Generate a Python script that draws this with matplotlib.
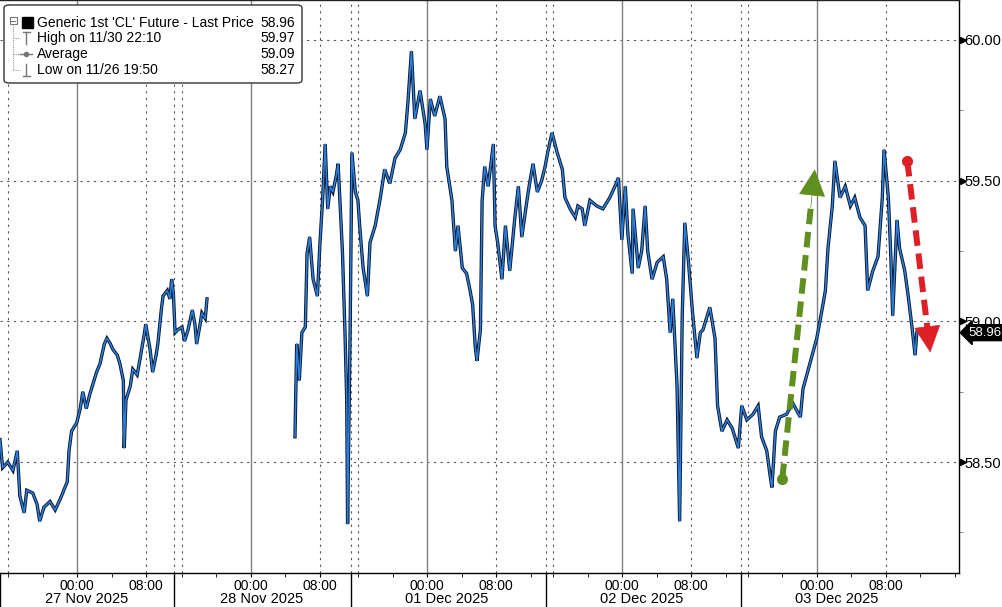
import numpy as np
import matplotlib.pyplot as plt
import matplotlib.transforms as mtransforms
from matplotlib.patches import FancyBboxPatch, Rectangle
from matplotlib.lines import Line2D

plt.rcParams['font.family'] = ['Liberation Sans', 'DejaVu Sans']

# time axis = trading hours counted from the left edge (closed hours squeezed out)
# 26/27 Nov session
t1 = [0.0, 0.3, 0.9, 1.5, 2.0, 2.3, 2.8, 3.1, 3.8, 4.3, 4.6, 5.1, 5.8, 6.4, 7.0, 7.4,
      7.8, 8.0, 8.3, 8.9, 9.3, 9.6, 10.0, 10.4, 10.8, 11.2, 11.6, 12.1, 12.4, 12.8, 13.1,
      13.6, 13.9, 14.3, 14.4, 14.6, 15.1, 15.4, 15.9, 16.2, 16.7, 16.9, 17.4, 17.7, 18.1,
      18.3, 18.7, 18.9, 19.4, 19.7, 19.9, 20.1, 20.3, 20.6, 21.1, 21.4, 21.8, 22.3, 22.6,
      22.8, 23.2, 23.4, 23.8, 24.0]
p1 = [58.58, 58.48, 58.50, 58.47, 58.54, 58.38, 58.32, 58.40, 58.39, 58.35, 58.29, 58.34,
      58.36, 58.33, 58.37, 58.40, 58.43, 58.54, 58.61, 58.64, 58.69, 58.75, 58.69, 58.74,
      58.78, 58.82, 58.85, 58.92, 58.94, 58.92, 58.90, 58.88, 58.85, 58.79, 58.55, 58.72,
      58.77, 58.83, 58.81, 58.86, 58.95, 58.99, 58.90, 58.82, 58.88, 58.92, 59.04, 59.09,
      59.11, 59.08, 59.15, 59.10, 58.96, 58.97, 58.98, 58.93, 58.97, 59.04, 58.99, 58.92,
      58.99, 59.03, 59.01, 59.08]

# 28 Nov evening session onwards
t2 = [34.2, 34.4, 34.7, 35.0, 35.4, 35.6, 35.9, 36.3, 36.8, 37.1, 37.4, 37.7, 38.0, 38.3,
      38.6, 39.0, 39.2, 39.7, 40.0, 40.2, 40.3, 40.6, 40.8, 41.2, 41.5, 41.7, 42.1, 42.6,
      42.9, 43.5, 44.1, 44.6, 45.2, 45.8, 46.4, 47.0, 47.3, 47.7, 48.1, 48.7, 49.3, 49.5,
      49.9, 50.4, 51.0, 51.6, 51.8, 52.4, 52.8, 53.1, 53.6, 54.1, 54.5, 54.8, 55.1, 55.3,
      55.7, 55.9, 56.2, 56.6, 57.0, 57.2, 57.4, 57.7, 58.2, 58.6, 59.1, 59.7, 60.1, 60.5,
      61.1, 61.4, 61.8, 62.3, 62.8, 63.2, 63.5, 64.0, 64.6, 65.2, 65.5, 66.1, 66.7, 67.0,
      67.5, 67.8, 68.4, 69.2, 69.9, 70.7, 71.3, 71.7, 72.1, 72.5, 72.8, 73.3, 73.4, 74.0,
      74.4, 74.8, 75.1, 75.6, 76.2, 76.9, 77.3, 77.7, 78.0, 78.5, 78.8, 79.1, 79.4, 79.8,
      80.3, 80.8, 81.2, 81.5, 82.3, 82.9, 83.2, 83.7, 84.3, 84.9, 85.6, 86.0, 86.6, 87.3,
      87.9, 88.3, 88.9, 89.3, 89.5, 89.9, 90.4, 91.2, 91.9, 92.8, 93.1, 93.9, 94.7, 95.3,
      95.7, 96.0, 96.5, 96.8, 97.4, 98.0, 98.6, 99.1, 99.7, 100.3, 100.6, 101.2, 101.8,
      102.3, 102.5, 103.0, 103.3, 103.5, 104.0, 104.3, 104.9, 105.3, 105.7, 106.1, 106.3]
p2 = [58.59, 58.92, 58.79, 58.96, 58.98, 59.24, 59.30, 59.15, 59.09, 59.28, 59.43, 59.63,
      59.40, 59.48, 59.46, 59.52, 59.56, 59.25, 58.96, 58.72, 58.28, 58.98, 59.60, 59.46,
      59.43, 59.34, 59.19, 59.09, 59.28, 59.34, 59.44, 59.54, 59.49, 59.58, 59.61, 59.67,
      59.78, 59.96, 59.72, 59.82, 59.70, 59.61, 59.79, 59.73, 59.80, 59.72, 59.55, 59.43,
      59.25, 59.34, 59.19, 59.17, 59.11, 59.06, 58.91, 58.86, 58.97, 59.43, 59.55, 59.48,
      59.58, 59.63, 59.34, 59.28, 59.15, 59.34, 59.18, 59.37, 59.48, 59.30, 59.43, 59.49,
      59.56, 59.46, 59.50, 59.55, 59.60, 59.67, 59.60, 59.54, 59.44, 59.40, 59.37, 59.41,
      59.40, 59.34, 59.43, 59.41, 59.40, 59.44, 59.48, 59.51, 59.29, 59.48, 59.31, 59.17,
      59.40, 59.19, 59.25, 59.41, 59.25, 59.15, 59.21, 59.23, 59.15, 58.96, 59.08, 58.77,
      58.29, 59.02, 59.35, 59.22, 59.03, 58.87, 58.96, 58.97, 59.05, 58.94, 58.70, 58.61,
      58.65, 58.62, 58.55, 58.70, 58.65, 58.67, 58.70, 58.59, 58.54, 58.45, 58.41, 58.61,
      58.66, 58.67, 58.71, 58.66, 58.76, 58.85, 58.94, 59.04, 59.11, 59.26, 59.41, 59.57,
      59.44, 59.48, 59.41, 59.44, 59.37, 59.34, 59.11, 59.18, 59.23, 59.44, 59.61, 59.44,
      59.22, 59.02, 59.36, 59.26, 59.18, 59.09, 58.99, 58.88, 58.96]

midnights = [8.93, 29.10, 49.51, 72.12, 94.72]
day_breaks = [20.17, 40.70, 63.30, 85.91]
day_labels = ['27 Nov 2025', '28 Nov 2025', '01 Dec 2025', '02 Dec 2025', '03 Dec 2025']
day_label_x = [10.09, 30.38, 51.83, 74.43, 97.04]
y_ticks = [58.5, 59.0, 59.5, 60.0]
y_minor = [58.25, 58.75, 59.25, 59.75]
last_price = 58.96
legend_rows = [("Generic 1st 'CL' Future - Last Price", '58.96'),
               ('High on 11/30 22:10', '59.97'),
               ('Average', '59.09'),
               ('Low on 11/26 19:50', '58.27')]
# trend arrows (start, end) in (hours, price)
up_arrow = ((90.7, 58.44), (94.5, 59.55))
down_arrow = ((105.2, 59.57), (107.9, 58.88))

W, H = 1003, 607
xmax = 111.19
fig = plt.figure(figsize=(W / 100, H / 100), dpi=100)
ax = fig.add_axes([0, 1 - 573 / H, 959 / W, 573 / H])
ax.set_xlim(0, xmax)
ax.set_ylim(58.106, 60.142)

# grid
for y in y_ticks:
    ax.axhline(y, color='#555555', lw=0.8, ls=(0, (2, 4)), zorder=0)
for m in midnights:
    ax.axvline(m, color='#808080', lw=1, zorder=0)
    for d in (-8, 8):
        ax.axvline(m + d, color='#555555', lw=0.8, ls=(0, (2, 4)), zorder=0)
for b in day_breaks:
    ax.axvline(b, color='#555555', lw=0.8, ls=(0, (2, 4)), zorder=0)

# price
for t, p in ((t1, p1), (t2, p2)):
    ax.plot(t, p, color='#0a1628', lw=2.4, solid_joinstyle='miter', zorder=2)
    ax.plot(t, p, color='#2b7fe0', lw=1.1, zorder=3)

# arrows
for (s, e), col in ((up_arrow, '#5f8f1f'), (down_arrow, '#dd1f26')):
    (x0, y0), (x1, y1) = s, e
    f = 0.88
    xm, ym = x0 + (x1 - x0) * f, y0 + (y1 - y0) * f
    ax.plot([x0, xm], [y0, ym], color=col, lw=4.3, ls=(0, (2.6, 1.3)),
            solid_capstyle='butt', zorder=5)
    ax.plot([x0], [y0], 'o', color=col, ms=7, zorder=5)
    ax.annotate('', xy=(x1, y1), xytext=(xm - (x1 - x0) * 0.02, ym - (y1 - y0) * 0.02),
                arrowprops=dict(arrowstyle='-|>,head_width=0.45,head_length=0.9',
                                color=col, lw=0.5, mutation_scale=20), zorder=5)

# spines
ax.spines['left'].set_visible(False)
ax.spines['top'].set_color('#222222')
ax.spines['top'].set_linewidth(1)
ax.spines['right'].set_linewidth(1)
ax.spines['bottom'].set_linewidth(1)

# y axis on right
ax.yaxis.tick_right()
ax.set_yticks(y_ticks)
ax.set_yticklabels(['%.2f' % v for v in y_ticks], fontsize=10.5)
ax.set_yticks(y_minor, minor=True)
ax.tick_params(axis='y', which='major', length=0, pad=4)
ax.tick_params(axis='y', which='minor', length=3, color='#777777')
tr_y = mtransforms.blended_transform_factory(ax.transAxes, ax.transData)
ax.plot([1.004] * len(y_ticks), y_ticks, ls='', marker='>', ms=5, color='black',
        transform=tr_y, clip_on=False)

# last price tag
ax.annotate('%.2f' % last_price, xy=(1, last_price), xycoords=tr_y,
            xytext=(7, 0), textcoords='offset points', ha='left', va='center',
            color='white', fontsize=9.5,
            bbox=dict(boxstyle='larrow,pad=0.15', fc='black', ec='black'), zorder=10)

# x axis
majors = []
labels = []
for m in midnights:
    majors += [m, m + 8]
    labels += ['00:00', '08:00']
ax.set_xticks(majors)
ax.set_xticklabels(labels, fontsize=10)
bounds = [0] + day_breaks + [xmax]
minor = []
for i, m in enumerate(midnights):
    for k in range(-2, 5):
        t = m + 4 * k
        if bounds[i] < t < bounds[i + 1]:
            minor.append(t)
ax.set_xticks(minor, minor=True)
ax.tick_params(axis='x', which='both', length=3, direction='out', pad=1.5)

tr_x = mtransforms.blended_transform_factory(ax.transData, ax.transAxes)
for b in [0.05] + day_breaks:
    ax.plot([b, b], [0, -0.06], color='black', lw=1, transform=tr_x, clip_on=False)
for x, lbl in zip(day_label_x, day_labels):
    ax.annotate(lbl, xy=(x, 0), xycoords=tr_x, xytext=(0, -18.5),
                textcoords='offset points', ha='center', va='center', fontsize=10.5)

# legend box drawn in pixel positions
def fx(x):
    return x / W


def fy(y):
    return 1 - y / H


fig.add_artist(FancyBboxPatch((fx(4), fy(83)), fx(298), 78 / H,
                              boxstyle='round,pad=0,rounding_size=0.005',
                              transform=fig.transFigure, fc='white', ec='#333333', lw=1,
                              zorder=20))
row_y = [23, 38, 54, 70]
for (txt, val), y in zip(legend_rows, row_y):
    fig.text(fx(37), fy(y), txt, fontsize=10, va='center', ha='left', zorder=21)
    fig.text(fx(295), fy(y), val, fontsize=10, va='center', ha='right', zorder=21)


def seg(xs, ys, **kw):
    fig.add_artist(Line2D([fx(x) for x in xs], [fy(y) for y in ys],
                          transform=fig.transFigure, zorder=21, **kw))


fig.add_artist(Rectangle((fx(22), fy(28)), fx(11), 11 / H, transform=fig.transFigure,
                         fc='black', ec='black', zorder=21))
fig.add_artist(Rectangle((fx(10), fy(24)), fx(7), 7 / H, transform=fig.transFigure,
                         fc='white', ec='#777777', lw=0.8, zorder=21))
seg([11.5, 15.5], [20.5, 20.5], color='#777777', lw=0.8)
seg([13.5, 13.5], [24, 70], color='#999999', lw=0.8, ls=(0, (1, 1)))
for y in row_y[1:]:
    seg([13.5, 20], [y, y], color='#999999', lw=0.8, ls=(0, (1, 1)))
seg([23, 30], [32, 32], color='#777777', lw=1)
seg([26.5, 26.5], [32, 44], color='#777777', lw=1)
seg([20, 32], [54, 54], color='#777777', lw=1)
seg([26], [54], marker='o', ms=3, color='#777777')
seg([26.5, 26.5], [64, 76], color='#777777', lw=1)
seg([23, 30], [76, 76], color='#777777', lw=1)

fig.savefig('out.png', dpi=100)
